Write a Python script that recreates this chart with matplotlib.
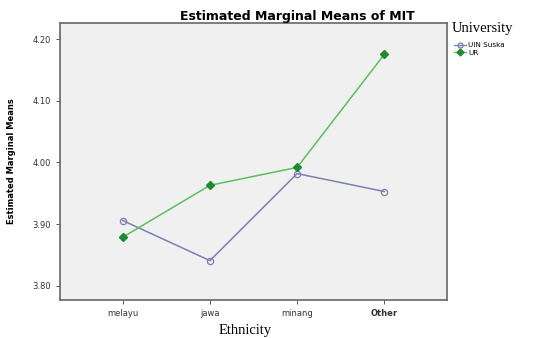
import matplotlib
matplotlib.use("Agg")
import matplotlib.pyplot as plt
from matplotlib.lines import Line2D

# data
ethnicity = ["melayu", "jawa", "minang", "Other"]
uin_suska = [3.906, 3.841, 3.982, 3.953]
ur = [3.879, 3.963, 3.992, 4.175]
y_ticks = [3.80, 3.90, 4.00, 4.10, 4.20]

fig = plt.figure(figsize=(5.36, 3.38), dpi=100)
ax = fig.add_axes([0.112, 0.112, 0.722, 0.820])
ax.set_facecolor("#f0f0f0")

x = range(len(ethnicity))
ax.plot(x, uin_suska, color="#7b80b4", lw=1.1, marker="o", ms=4.5,
        mfc="none", mec="#7b80b4", mew=0.9, label="UIN Suska")
ax.plot(x, ur, color="#5cbf5c", lw=1.1, marker="D", ms=4.5,
        mfc="#1f8a2f", mec="#1f8a2f", label="UR")

ax.set_xlim(-0.72, 3.72)
ax.set_ylim(3.777, 4.226)
ax.set_xticks(list(x))
ax.set_xticklabels(ethnicity, fontsize=6, color="#333333")
ax.get_xticklabels()[3].set_fontweight("bold")
ax.set_yticks(y_ticks)
ax.set_yticklabels([f"{v:.2f}" for v in y_ticks], fontsize=6, color="#333333")
ax.tick_params(length=3, width=0.7, color="#555555")
for s in ax.spines.values():
    s.set_color("#666666")
    s.set_linewidth(1.2)

# SPSS centres the title over the whole chart, legend included
fig.text(0.554, 0.952, "Estimated Marginal Means of MIT", fontsize=9,
         fontweight="bold", ha="center", va="center")
ax.set_ylabel("Estimated Marginal Means", fontsize=6, fontweight="bold",
              labelpad=12)
ax.set_xlabel("Ethnicity", fontsize=10.5, family="Liberation Serif", labelpad=5)
ax.xaxis.set_label_coords(0.478, -0.085)

fig.text(0.843, 0.915, "University", fontsize=10.5, family="Liberation Serif",
         va="center")
handles = [
    Line2D([], [], color="#7b80b4", lw=1, marker="o", ms=3.5, mfc="none",
           mec="#7b80b4"),
    Line2D([], [], color="#5cbf5c", lw=1, marker="D", ms=3.5, mfc="#1f8a2f",
           mec="#1f8a2f"),
]
fig.legend(handles, ["UIN Suska", "UR"], loc="upper left",
           bbox_to_anchor=(0.838, 0.89), frameon=False, fontsize=5.2,
           handlelength=1.6, handletextpad=0.3, labelspacing=0.2,
           borderpad=0.2)

fig.savefig("out.png", dpi=100)
